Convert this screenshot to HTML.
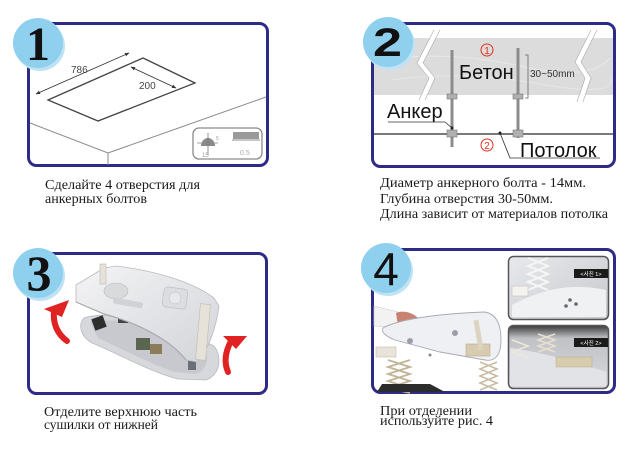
<!DOCTYPE html>
<html><head><meta charset="utf-8">
<style>
html,body{margin:0;padding:0;background:#fff;}
svg{display:block;}
.cap{font-family:"Liberation Serif","Noto Serif CJK SC",serif;font-size:14px;fill:#1a1a1a;}
.sans{font-family:"Liberation Sans","Noto Sans CJK KR",sans-serif;}
</style></head>
<body>
<svg width="640" height="449" viewBox="0 0 640 449" xmlns="http://www.w3.org/2000/svg">
<defs>
  <marker id="ah" viewBox="0 0 10 10" refX="9" refY="5" markerWidth="5" markerHeight="5" orient="auto-start-reverse">
    <path d="M0,1 L10,5 L0,9 Z" fill="#333"/>
  </marker>
  <linearGradient id="g3" x1="0" y1="0" x2="1" y2="1">
    <stop offset="0" stop-color="#f4f4f6"/><stop offset="1" stop-color="#d2d4d8"/>
  </linearGradient>
  <linearGradient id="gi1" x1="0" y1="0" x2="1" y2="1">
    <stop offset="0" stop-color="#e8e9ec"/><stop offset="1" stop-color="#c6c8cc"/>
  </linearGradient>
  <linearGradient id="gi2" x1="0" y1="0" x2="0" y2="1">
    <stop offset="0" stop-color="#3a3a3a"/><stop offset="0.2" stop-color="#bfc1c4"/><stop offset="1" stop-color="#d9dadd"/>
  </linearGradient>
</defs>

<!-- ============ PANEL 1 ============ -->
<rect x="28.5" y="23.5" width="239" height="142" rx="8" fill="#fff" stroke="#2e2b86" stroke-width="3"/>
<polyline points="30,123 108,153 266,97" fill="none" stroke="#8a8a8a" stroke-width="1"/>
<line x1="108" y1="153" x2="108" y2="165" stroke="#8a8a8a" stroke-width="1"/>
<polygon points="48,100 143,58 195,83 98,121" fill="none" stroke="#444" stroke-width="1.3"/>
<line x1="36" y1="94" x2="129" y2="53" stroke="#333" stroke-width="0.9" marker-start="url(#ah)" marker-end="url(#ah)"/>
<line x1="131" y1="67" x2="176" y2="88" stroke="#333" stroke-width="0.9" marker-start="url(#ah)" marker-end="url(#ah)"/>
<text x="71" y="73" class="sans" font-size="10" fill="#444">786</text>
<text x="139" y="89" class="sans" font-size="10" fill="#444">200</text>
<rect x="193" y="128" width="69" height="31" rx="6" fill="#fff" stroke="#8a8a8a" stroke-width="1.3"/>
<line x1="197" y1="143" x2="218" y2="143" stroke="#888" stroke-width="0.8"/>
<path d="M201,146 A7,8 0 0 1 215,146 Z" fill="#8a8a8a"/>
<line x1="208" y1="133" x2="208" y2="155" stroke="#777" stroke-width="0.8"/>
<text x="202" y="157" class="sans" font-size="6" fill="#999">15</text>
<text x="216" y="140" class="sans" font-size="5" fill="#999">5</text>
<rect x="233" y="132" width="26" height="7" fill="#9a9a9a"/>
<line x1="232" y1="140" x2="260" y2="140" stroke="#666" stroke-width="0.8"/>
<text x="240" y="155" class="sans" font-size="7" fill="#aaa">0.5</text>
<circle cx="40" cy="46" r="25" fill="#bfe3f4"/>
<circle cx="38" cy="43" r="25" fill="#8fd0ef"/>
<text x="38" y="60" text-anchor="middle" font-family="Liberation Serif, serif" font-weight="bold" font-size="48" fill="#111">1</text>
<text class="cap" x="45" y="189" textLength="155" lengthAdjust="spacingAndGlyphs">Сделайте 4 отверстия для</text>
<text class="cap" x="45" y="203" textLength="102" lengthAdjust="spacingAndGlyphs">анкерных болтов</text>

<!-- ============ PANEL 2 ============ -->
<rect x="372.5" y="23.5" width="242" height="143" rx="8" fill="#fff" stroke="#2e2b86" stroke-width="3"/>
<rect x="374" y="38" width="239" height="57" fill="#dcdcdc"/>
<path d="M380,60 Q450,50 520,66 T610,58" fill="none" stroke="#e8e8e8" stroke-width="1"/>
<path d="M390,80 Q460,70 540,84 T610,76" fill="none" stroke="#e6e6e6" stroke-width="1"/>
<polyline points="437,30 420,63 432,78 422,100" fill="none" stroke="#fff" stroke-width="5"/>
<polyline points="437,30 420,63 432,78 422,100" fill="none" stroke="#aaa" stroke-width="0.6" transform="translate(-3,0)"/>
<polyline points="437,30 420,63 432,78 422,100" fill="none" stroke="#aaa" stroke-width="0.6" transform="translate(3,0)"/>
<polyline points="594,30 578,62 588,78 580,102" fill="none" stroke="#fff" stroke-width="5"/>
<polyline points="594,30 578,62 588,78 580,102" fill="none" stroke="#aaa" stroke-width="0.6" transform="translate(-3,0)"/>
<polyline points="594,30 578,62 588,78 580,102" fill="none" stroke="#aaa" stroke-width="0.6" transform="translate(3,0)"/>
<line x1="374" y1="134" x2="613" y2="134" stroke="#7a7a7a" stroke-width="2"/>
<rect x="450.5" y="50" width="3" height="97" fill="#8c8c8c"/>
<rect x="447" y="94" width="10" height="5" fill="#b0b0b0" stroke="#777" stroke-width="0.6"/>
<rect x="447" y="130" width="10" height="7" fill="#b0b0b0" stroke="#777" stroke-width="0.6"/>
<rect x="516.5" y="48" width="3" height="90" fill="#8c8c8c"/>
<rect x="513" y="94" width="10" height="5" fill="#b0b0b0" stroke="#777" stroke-width="0.6"/>
<rect x="513" y="130" width="10" height="7" fill="#b0b0b0" stroke="#777" stroke-width="0.6"/>
<polyline points="525,55 528,55 528,98 525,98" fill="none" stroke="#666" stroke-width="0.8"/>
<text x="530" y="77" class="sans" font-size="10" fill="#333">30~50mm</text>
<text x="459" y="79" class="sans" font-size="20" fill="#111">Бетон</text>
<circle cx="487" cy="50" r="6" fill="none" stroke="#e0321e" stroke-width="1"/>
<text x="487" y="54" text-anchor="middle" class="sans" font-size="10" fill="#e0321e">1</text>
<circle cx="487" cy="145" r="6" fill="none" stroke="#e0321e" stroke-width="1"/>
<text x="487" y="149" text-anchor="middle" class="sans" font-size="10" fill="#e0321e">2</text>
<text x="387" y="118" class="sans" font-size="20" fill="#111">Анкер</text>
<polyline points="388,122 445,122 452,128" fill="none" stroke="#333" stroke-width="0.8"/>
<circle cx="452" cy="128" r="1.5" fill="#222"/>
<text x="520" y="157" class="sans" font-size="20" fill="#111">Потолок</text>
<polyline points="500,133 510,158 600,158" fill="none" stroke="#333" stroke-width="0.8"/>
<circle cx="500" cy="133" r="1.5" fill="#222"/>
<circle cx="390" cy="45" r="25" fill="#bfe3f4"/>
<circle cx="388" cy="42" r="25" fill="#8fd0ef"/>
<text x="373" y="56" font-family="Liberation Sans, sans-serif" font-weight="bold" font-size="40" fill="#111" textLength="29" lengthAdjust="spacingAndGlyphs">2</text>
<text class="cap" x="380" y="187" textLength="206" lengthAdjust="spacingAndGlyphs">Диаметр анкерного болта  - 14мм.</text>
<text class="cap" x="380" y="203" textLength="173" lengthAdjust="spacingAndGlyphs">Глубина отверстия 30-50мм.</text>
<text class="cap" x="380" y="218" textLength="228" lengthAdjust="spacingAndGlyphs">Длина зависит от материалов потолка</text>

<!-- ============ PANEL 3 ============ -->
<rect x="28.5" y="253.5" width="238" height="140" rx="8" fill="#fff" stroke="#2e2b86" stroke-width="3"/>
<path d="M84,318 C100,312 150,316 172,326 L214,346 C222,356 221,374 206,380 L178,379 C150,372 115,352 92,343 C80,336 78,324 84,318 Z" fill="#d6d8dc" stroke="#b8babe" stroke-width="0.8"/>
<path d="M90,322 C110,318 150,322 170,332 L205,350 C210,360 205,372 195,374 L175,372 C150,364 120,348 98,338 Z" fill="#c7c9ce"/>
<rect x="93" y="317" width="12" height="12" fill="#2e2e2e" transform="rotate(-20 99 323)"/>
<rect x="136" y="338" width="14" height="12" fill="#5a6650"/>
<rect x="150" y="344" width="12" height="10" fill="#8c7c5a"/>
<rect x="118" y="318" width="10" height="5" fill="#444"/>
<rect x="188" y="352" width="8" height="18" fill="#6a6e78"/>
<path d="M76,285 L104,268 L116,266 C150,270 190,280 214,298 L219,306 C216,330 207,352 197,362 L186,360 C172,342 142,324 104,314 L76,302 Z" fill="url(#g3)" stroke="#b8babe" stroke-width="0.8"/>
<path d="M76,302 L104,314 C142,324 172,342 186,360" fill="none" stroke="#a8aaae" stroke-width="1.2"/>
<ellipse cx="116" cy="291" rx="12" ry="8" fill="#d8dadc" stroke="#bbb" stroke-width="0.6"/>
<rect x="163" y="288" width="24" height="20" rx="4" fill="#dcdde0" stroke="#bbb" stroke-width="0.6" transform="rotate(8 175 298)"/>
<circle cx="175" cy="298" r="6" fill="#e8e8ea" stroke="#bbb" stroke-width="0.5"/>
<rect x="113" y="300" width="30" height="6" rx="2" fill="#d0d2d6" transform="rotate(10 128 303)"/>
<rect x="198" y="304" width="10" height="56" fill="#e6e2da" stroke="#c0bbb0" stroke-width="0.6" transform="rotate(5 203 332)"/>
<rect x="100" y="264" width="6" height="20" fill="#e6e2da" stroke="#c0bbb0" stroke-width="0.6"/>
<path d="M54,310 Q52,330 67,341" fill="none" stroke="#e02222" stroke-width="6" stroke-linecap="round"/>
<polygon points="44,309 69,300 62,317" fill="#e02222"/>
<path d="M231,341 Q222,358 228,372" fill="none" stroke="#e02222" stroke-width="6" stroke-linecap="round"/>
<polygon points="223,336 247,336 236,349" fill="#e02222"/>
<circle cx="40" cy="276" r="25" fill="#bfe3f4"/>
<circle cx="38" cy="273" r="25" fill="#8fd0ef"/>
<text x="39" y="290" text-anchor="middle" font-family="Liberation Serif, serif" font-weight="bold" font-size="50" fill="#111">3</text>
<text class="cap" x="44" y="416" textLength="153" lengthAdjust="spacingAndGlyphs">Отделите верхнюю часть</text>
<text class="cap" x="44" y="429" textLength="114" lengthAdjust="spacingAndGlyphs">сушилки от нижней</text>

<!-- ============ PANEL 4 ============ -->
<rect x="372.5" y="249.5" width="242" height="143" rx="8" fill="#fff" stroke="#2e2b86" stroke-width="3"/>
<polygon points="374,306 398,312 398,328 374,326" fill="#f2f2f2" stroke="#ccc" stroke-width="0.6"/>
<path d="M396,313 C402,310 412,312 418,318 L414,326 L398,326 Z" fill="#c98272"/>
<path d="M383,328 C400,318 450,313 485,312 C497,314 501,325 501,340 C501,355 495,362 485,360 L440,352 L395,340 C385,336 381,332 383,328 Z" fill="#eef0f4" stroke="#a8aab4" stroke-width="0.9"/>
<circle cx="410" cy="341" r="3" fill="#9aa0aa"/>
<circle cx="455" cy="333" r="3" fill="#9aa0aa"/>
<circle cx="430" cy="355" r="1.5" fill="#888"/>
<rect x="466" y="344" width="24" height="12" fill="#d8ccb0" stroke="#b8a888" stroke-width="0.6"/>
<rect x="476" y="320" width="5" height="30" fill="#dcd4c0" transform="rotate(-10 478 335)"/>
<rect x="376" y="347" width="20" height="10" fill="#e8e4da" stroke="#c4bca8" stroke-width="0.6"/>
<polyline points="388,360 410,367 388,374 410,381 388,388 410,393" fill="none" stroke="#c2b496" stroke-width="1.8"/>
<polyline points="410,360 388,367 410,374 388,381 410,388" fill="none" stroke="#c2b496" stroke-width="1.8"/>
<polyline points="480,362 497,369 480,376 497,383 480,390" fill="none" stroke="#c8bca4" stroke-width="1.6"/>
<polyline points="497,362 480,369 497,376 480,383 497,390" fill="none" stroke="#c8bca4" stroke-width="1.6"/>
<path d="M377,392 L382,384 L430,384 L445,392 Z" fill="#2c2c2c"/>
<rect x="508.5" y="256.5" width="100" height="63" rx="5" fill="url(#gi1)" stroke="#555" stroke-width="1.5"/>
<path d="M512,305 C540,290 570,282 606,290 L606,317 L512,317 Z" fill="#f0f1f3"/>
<polyline points="528,258 548,266 528,274 548,282 528,290" fill="none" stroke="#f6f6f6" stroke-width="2"/>
<polyline points="548,258 528,266 548,274 528,282 548,290" fill="none" stroke="#f6f6f6" stroke-width="2"/>
<rect x="512" y="286" width="16" height="10" fill="#f4f2ec" stroke="#bbb" stroke-width="0.5"/>
<circle cx="570" cy="300" r="1.8" fill="#667"/><circle cx="576" cy="304" r="1.8" fill="#667"/><circle cx="566" cy="306" r="1.8" fill="#667"/>
<rect x="574" y="269" width="34" height="9" fill="#1a1a1a"/>
<text x="591" y="276" text-anchor="middle" class="sans" font-size="5.5" fill="#fff">&lt;사진 1&gt;</text>
<rect x="508.5" y="325.5" width="100" height="63" rx="5" fill="url(#gi2)" stroke="#555" stroke-width="1.5"/>
<path d="M510,348 C540,352 570,360 606,372 L606,386 L510,386 Z" fill="#e2e3e6"/>
<polyline points="512,340 528,346 512,352 528,358" fill="none" stroke="#ede8dc" stroke-width="1.6"/>
<polyline points="538,334 555,340 538,346 555,352" fill="none" stroke="#e6dfd0" stroke-width="1.6"/>
<polyline points="555,334 538,340 555,346 538,352" fill="none" stroke="#e6dfd0" stroke-width="1.6"/>
<rect x="556" y="357" width="36" height="10" fill="#d8ccb0" stroke="#b8a888" stroke-width="0.5"/>
<rect x="574" y="338" width="34" height="9" fill="#1a1a1a"/>
<text x="591" y="345" text-anchor="middle" class="sans" font-size="5.5" fill="#fff">&lt;사진 2&gt;</text>
<circle cx="388" cy="271" r="25" fill="#bfe3f4"/>
<circle cx="386" cy="268" r="25" fill="#8fd0ef"/>
<text x="386" y="285" text-anchor="middle" font-family="Liberation Sans, sans-serif" font-size="46" fill="#111">4</text>
<text class="cap" x="380" y="415" textLength="92" lengthAdjust="spacingAndGlyphs">При отделении</text>
<text class="cap" x="380" y="425" textLength="113" lengthAdjust="spacingAndGlyphs">используйте рис. 4</text>
</svg>
</body></html>
